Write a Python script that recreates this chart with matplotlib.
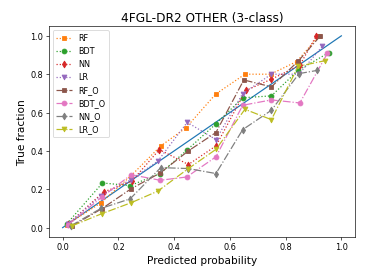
import matplotlib
matplotlib.use("Agg")
import matplotlib.pyplot as plt

names = ["RF", "BDT", "NN", "LR", "RF_O", "BDT_O", "NN_O", "LR_O"]

rf_x = [0.015, 0.137, 0.245, 0.352, 0.442, 0.549, 0.654, 0.746, 0.84, 0.92]
rf_y = [0.015, 0.129, 0.27, 0.426, 0.52, 0.696, 0.80, 0.80, 0.866, 1.0]

bdt_x = [0.015, 0.143, 0.242, 0.35, 0.445, 0.55, 0.646, 0.749, 0.845, 0.956]
bdt_y = [0.02, 0.233, 0.219, 0.282, 0.403, 0.541, 0.677, 0.687, 0.82, 0.913]

nn_x = [0.02, 0.147, 0.248, 0.347, 0.451, 0.55, 0.657, 0.749, 0.851, 0.91]
nn_y = [0.02, 0.186, 0.242, 0.407, 0.329, 0.426, 0.715, 0.774, 0.847, 1.0]

lr_x = [0.02, 0.137, 0.245, 0.341, 0.447, 0.55, 0.646, 0.749, 0.848, 0.932]
lr_y = [0.02, 0.167, 0.25, 0.346, 0.549, 0.459, 0.699, 0.80, 0.80, 0.946]

rfo_x = [0.034, 0.141, 0.246, 0.35, 0.451, 0.55, 0.65, 0.749, 0.845, 0.925]
rfo_y = [0.009, 0.099, 0.203, 0.285, 0.40, 0.496, 0.77, 0.734, 0.868, 1.0]

bdto_x = [0.02, 0.141, 0.246, 0.35, 0.445, 0.55, 0.646, 0.749, 0.851, 0.95]
bdto_y = [0.015, 0.16, 0.276, 0.247, 0.264, 0.369, 0.638, 0.666, 0.65, 0.909]

nno_x = [0.03, 0.137, 0.242, 0.352, 0.451, 0.55, 0.646, 0.749, 0.848, 0.914]
nno_y = [0.01, 0.10, 0.15, 0.313, 0.308, 0.282, 0.511, 0.612, 0.803, 0.82]

lro_x = [0.035, 0.141, 0.246, 0.341, 0.451, 0.55, 0.654, 0.749, 0.845, 0.94]
lro_y = [0.01, 0.073, 0.13, 0.19, 0.308, 0.408, 0.617, 0.563, 0.841, 0.87]

diag = [0.0, 1.0]

series = [
    (rf_x, rf_y, "s", ":"),
    (bdt_x, bdt_y, "o", ":"),
    (nn_x, nn_y, "d", ":"),
    (lr_x, lr_y, "v", ":"),
    (rfo_x, rfo_y, "s", "-."),
    (bdto_x, bdto_y, "o", "-."),
    (nno_x, nno_y, "d", "-."),
    (lro_x, lro_y, "v", "-."),
]

fig = plt.figure(figsize=(6.4, 4.8), dpi=58.4375)
ax = fig.add_axes([48.7/374, 1-237.3/280, (355.3-48.7)/374, (237.3-26.7)/280])
ax.plot(diag, diag)
for (x, y, m, ls), name in zip(series, names):
    ax.plot(x, y, marker=m, linestyle=ls, label=name)
ax.set_title("4FGL-DR2 OTHER (3-class)", fontsize=15)
ax.set_xlabel("Predicted probability", fontsize=13)
ax.set_ylabel("True fraction", fontsize=13)
ax.legend(loc="upper left")
fig.savefig("out.png", dpi=58.4375)
